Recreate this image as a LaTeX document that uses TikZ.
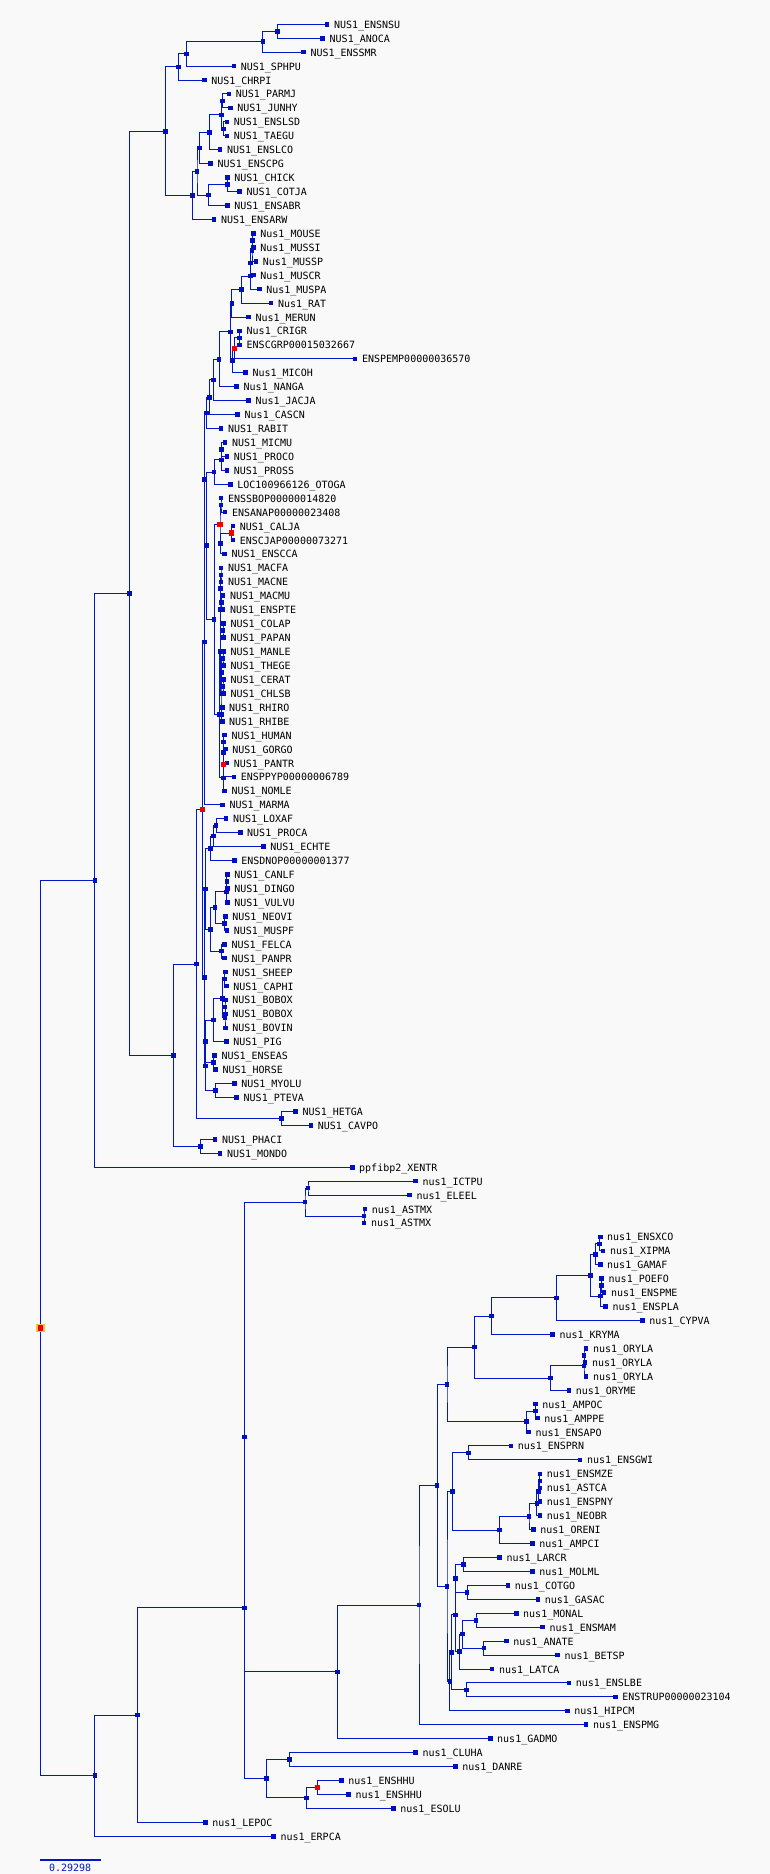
\documentclass[tikz,border=0pt]{standalone}
\usepackage{fontspec}
\newfontfamily\monolbl{DejaVu Sans Mono}
\usetikzlibrary{calc}
\pgfdeclarelayer{bglayer}
\pgfdeclarelayer{lines}
\pgfsetlayers{bglayer,lines,main}
\definecolor{lineblue}{RGB}{0,24,200}
\definecolor{mkblue}{RGB}{0,16,190}
\definecolor{bgcol}{RGB}{249,249,249}
\definecolor{rootring}{RGB}{245,195,70}
\definecolor{mkred}{RGB}{240,0,0}
\tikzset{
 br/.style={draw=lineblue, line width=1pt},
 mk/.style={rectangle, fill=mkblue, inner sep=0pt, minimum size=4.6pt},
 mkr/.style={rectangle, fill=mkred, inner sep=0pt, minimum size=5.2pt},
 lbl/.style={anchor=base west, inner sep=0pt, font=\monolbl\fontsize{10pt}{12pt}\selectfont, text=black},
}
\newcommand{\mkleaf}[3]{%
  \coordinate (L#1) at (#2pt,{-(24.3+13.938*#1)*1pt});
  \node[mk] (M#1) at (L#1) {};
  \node[lbl] (T#1) at ($(L#1)+(6.8pt,-4pt)$) {#3};
}
\newcommand{\mknodeA}[5]{%
  \path let \p1=($(#4)!0.5!(#5)$) in coordinate (#2) at (#3pt,\y1);
  \begin{pgfonlayer}{lines}
  \draw[br] (#4) -| (#2) |- (#5);
  \end{pgfonlayer}
  \node[#1] (K#2) at (#2) {};
}
\newcommand{\mknode}[4]{\mknodeA{mk}{#1}{#2}{#3}{#4}}
\newcommand{\mkrnode}[4]{\mknodeA{mkr}{#1}{#2}{#3}{#4}}
\begin{document}
\begin{tikzpicture}
\begin{pgfonlayer}{bglayer}
\fill[bgcol] (0pt,0pt) rectangle (770pt,-1874pt);
\end{pgfonlayer}
\useasboundingbox (0pt,0pt) rectangle (770pt,-1874pt);
% leaves
\mkleaf{0}{327}{NUS1\_ENSNSU}
\mkleaf{1}{322.7}{NUS1\_ANOCA}
\mkleaf{2}{303.5}{NUS1\_ENSSMR}
\mkleaf{3}{233.8}{NUS1\_SPHPU}
\mkleaf{4}{204.3}{NUS1\_CHRPI}
\mkleaf{5}{228.9}{NUS1\_PARMJ}
\mkleaf{6}{230.4}{NUS1\_JUNHY}
\mkleaf{7}{226.9}{NUS1\_ENSLSD}
\mkleaf{8}{226.9}{NUS1\_TAEGU}
\mkleaf{9}{220}{NUS1\_ENSLCO}
\mkleaf{10}{210.7}{NUS1\_ENSCPG}
\mkleaf{11}{227.4}{NUS1\_CHICK}
\mkleaf{12}{239.7}{NUS1\_COTJA}
\mkleaf{13}{227.4}{NUS1\_ENSABR}
\mkleaf{14}{214.1}{NUS1\_ENSARW}
\mkleaf{15}{253.4}{Nus1\_MOUSE}
\mkleaf{16}{253.4}{Nus1\_MUSSI}
\mkleaf{17}{255.9}{Nus1\_MUSSP}
\mkleaf{18}{253.4}{Nus1\_MUSCR}
\mkleaf{19}{259.3}{Nus1\_MUSPA}
\mkleaf{20}{271.1}{Nus1\_RAT}
\mkleaf{21}{248.5}{Nus1\_MERUN}
\mkleaf{22}{239.7}{Nus1\_CRIGR}
\mkleaf{23}{239.7}{ENSCGRP00015032667}
\mkleaf{24}{355.1}{ENSPEMP00000036570}
\mkleaf{25}{245.6}{Nus1\_MICOH}
\mkleaf{26}{236.7}{Nus1\_NANGA}
\mkleaf{27}{248.5}{Nus1\_JACJA}
\mkleaf{28}{237.7}{Nus1\_CASCN}
\mkleaf{29}{221}{NUS1\_RABIT}
\mkleaf{30}{225}{NUS1\_MICMU}
\mkleaf{31}{226.9}{NUS1\_PROCO}
\mkleaf{32}{226.9}{NUS1\_PROSS}
\mkleaf{33}{230.4}{LOC100966126\_OTOGA}
\mkleaf{34}{221}{ENSSBOP00000014820}
\mkleaf{35}{225}{ENSANAP00000023408}
\mkleaf{36}{232.8}{NUS1\_CALJA}
\mkleaf{37}{232.8}{ENSCJAP00000073271}
\mkleaf{38}{224.5}{NUS1\_ENSCCA}
\mkleaf{39}{221}{NUS1\_MACFA}
\mkleaf{40}{221}{NUS1\_MACNE}
\mkleaf{41}{223}{NUS1\_MACMU}
\mkleaf{42}{223}{NUS1\_ENSPTE}
\mkleaf{43}{223.5}{NUS1\_COLAP}
\mkleaf{44}{223.5}{NUS1\_PAPAN}
\mkleaf{45}{223.5}{NUS1\_MANLE}
\mkleaf{46}{223.5}{NUS1\_THEGE}
\mkleaf{47}{223.5}{NUS1\_CERAT}
\mkleaf{48}{223.5}{NUS1\_CHLSB}
\mkleaf{49}{222.2}{NUS1\_RHIRO}
\mkleaf{50}{222.2}{NUS1\_RHIBE}
\mkleaf{51}{224.5}{NUS1\_HUMAN}
\mkleaf{52}{225.4}{NUS1\_GORGO}
\mkleaf{53}{226.9}{NUS1\_PANTR}
\mkleaf{54}{233.8}{ENSPPYP00000006789}
\mkleaf{55}{224.5}{NUS1\_NOMLE}
\mkleaf{56}{222.5}{NUS1\_MARMA}
\mkleaf{57}{226}{NUS1\_LOXAF}
\mkleaf{58}{240.2}{NUS1\_PROCA}
\mkleaf{59}{263.3}{NUS1\_ECHTE}
\mkleaf{60}{234.3}{ENSDNOP00000001377}
\mkleaf{61}{227.4}{NUS1\_CANLF}
\mkleaf{62}{227.4}{NUS1\_DINGO}
\mkleaf{63}{227.4}{NUS1\_VULVU}
\mkleaf{64}{225.4}{NUS1\_NEOVI}
\mkleaf{65}{226.9}{NUS1\_MUSPF}
\mkleaf{66}{224.5}{NUS1\_FELCA}
\mkleaf{67}{224.5}{NUS1\_PANPR}
\mkleaf{68}{225.4}{NUS1\_SHEEP}
\mkleaf{69}{226.4}{NUS1\_CAPHI}
\mkleaf{70}{225.4}{NUS1\_BOBOX}
\mkleaf{71}{225.4}{NUS1\_BOBOX}
\mkleaf{72}{225.4}{NUS1\_BOVIN}
\mkleaf{73}{226.4}{NUS1\_PIG}
\mkleaf{74}{214.6}{NUS1\_ENSEAS}
\mkleaf{75}{215.6}{NUS1\_HORSE}
\mkleaf{76}{234.3}{NUS1\_MYOLU}
\mkleaf{77}{236.7}{NUS1\_PTEVA}
\mkleaf{78}{295.7}{NUS1\_HETGA}
\mkleaf{79}{310.9}{NUS1\_CAVPO}
\mkleaf{80}{215.1}{NUS1\_PHACI}
\mkleaf{81}{220}{NUS1\_MONDO}
\mkleaf{82}{352.2}{ppfibp2\_XENTR}
\mkleaf{83}{415.5}{nus1\_ICTPU}
\mkleaf{84}{409.6}{nus1\_ELEEL}
\mkleaf{85}{364.9}{nus1\_ASTMX}
\mkleaf{86}{364}{nus1\_ASTMX}
\mkleaf{87}{600.2}{nus1\_ENSXCO}
\mkleaf{88}{603.1}{nus1\_XIPMA}
\mkleaf{89}{600.2}{nus1\_GAMAF}
\mkleaf{90}{601.7}{nus1\_POEFO}
\mkleaf{91}{604.1}{nus1\_ENSPME}
\mkleaf{92}{605.6}{nus1\_ENSPLA}
\mkleaf{93}{642.4}{nus1\_CYPVA}
\mkleaf{94}{552.5}{nus1\_KRYMA}
\mkleaf{95}{586}{nus1\_ORYLA}
\mkleaf{96}{585}{nus1\_ORYLA}
\mkleaf{97}{586}{nus1\_ORYLA}
\mkleaf{98}{568.8}{nus1\_ORYME}
\mkleaf{99}{535.4}{nus1\_AMPOC}
\mkleaf{100}{537.3}{nus1\_AMPPE}
\mkleaf{101}{528.5}{nus1\_ENSAPO}
\mkleaf{102}{510.8}{nus1\_ENSPRN}
\mkleaf{103}{580}{nus1\_ENSGWI}
\mkleaf{104}{539.8}{nus1\_ENSMZE}
\mkleaf{105}{539.8}{nus1\_ASTCA}
\mkleaf{106}{539.8}{nus1\_ENSPNY}
\mkleaf{107}{539.8}{nus1\_NEOBR}
\mkleaf{108}{533.4}{nus1\_ORENI}
\mkleaf{109}{532.4}{nus1\_AMPCI}
\mkleaf{110}{499.5}{nus1\_LARCR}
\mkleaf{111}{532.4}{nus1\_MOLML}
\mkleaf{112}{507.9}{nus1\_COTGO}
\mkleaf{113}{537.8}{nus1\_GASAC}
\mkleaf{114}{516.2}{nus1\_MONAL}
\mkleaf{115}{542.7}{nus1\_ENSMAM}
\mkleaf{116}{506.4}{nus1\_ANATE}
\mkleaf{117}{557.5}{nus1\_BETSP}
\mkleaf{118}{492.1}{nus1\_LATCA}
\mkleaf{119}{568.8}{nus1\_ENSLBE}
\mkleaf{120}{615.4}{ENSTRUP00000023104}
\mkleaf{121}{567.3}{nus1\_HIPCM}
\mkleaf{122}{586}{nus1\_ENSPMG}
\mkleaf{123}{490.2}{nus1\_GADMO}
\mkleaf{124}{415.5}{nus1\_CLUHA}
\mkleaf{125}{455.3}{nus1\_DANRE}
\mkleaf{126}{341.4}{nus1\_ENSHHU}
\mkleaf{127}{348.7}{nus1\_ENSHHU}
\mkleaf{128}{393.4}{nus1\_ESOLU}
\mkleaf{129}{205.3}{nus1\_LEPOC}
\mkleaf{130}{273.6}{nus1\_ERPCA}
% birds and reptiles
\mknode{n31}{277.5}{L0}{L1}
\mknode{n41}{262.8}{n31}{L2}
\mknode{n54}{186.6}{n41}{L3}
\mknode{n67}{178.3}{n54}{L4}
\mknode{n101}{222.5}{L5}{L6}
\mknode{n129}{223.5}{L7}{L8}
\mknode{n115}{221.5}{n101}{n129}
\mknode{n132}{209.7}{n115}{L9}
\mknode{n148}{199.4}{n132}{L10}
\mknode{n184}{227.4}{L11}{L12}
\mknode{n195b}{208.7}{n184}{L13}
\mknode{n171}{197}{n148}{n195b}
\mknode{n195}{192.5}{n171}{L14}
\mknode{n131}{165.5}{n67}{n195}
% rodents and glires
\mknode{m240}{252.5}{L15}{L16}
\mknode{m251}{252}{m240}{L17}
\mknode{m263}{250.5}{m251}{L18}
\mknode{m276}{250.5}{m263}{L19}
\mknode{m289}{241.2}{m276}{L20}
\mknode{m303}{231.8}{m289}{L21}
\mknode{m338}{239.7}{L22}{L23}
\mkrnode{m348}{234.3}{m338}{L24}
\mknode{m360}{232.3}{m348}{L25}
\mknode{m332}{230.4}{m303}{m360}
\mknode{m359}{219.1}{m332}{L26}
\mknode{m380}{213.2}{m359}{L27}
\mknode{m397}{209.2}{m380}{L28}
\mknode{m413}{206.3}{m397}{L29}
% primates
\mknode{p449}{221.5}{L30}{L31}
\mknode{p460}{221.5}{p449}{L32}
\mknode{p472}{214.1}{p460}{L33}
\mknode{p505}{221}{L34}{L35}
\mkrnode{p533}{231.3}{L36}{L37}
\mknode{p543}{220.5}{p533}{L38}
\mkrnode{p524}{220}{p505}{p543}
\mknode{o575}{221}{L39}{L40}
\mknode{o602}{221.5}{L41}{L42}
\mknode{o589}{220.5}{o575}{o602}
\mknode{o630}{223}{L43}{L44}
\mknode{o610}{220}{o589}{o630}
\mknode{o659}{223}{L45}{L46}
\mknode{o687}{223}{L47}{L48}
\mknode{o673}{221.5}{o659}{o687}
\mknode{o714}{221.5}{L49}{L50}
\mknode{o693}{221}{o673}{o714}
\mknode{owm}{220.5}{o610}{o693}
\mknode{h742}{223.5}{L51}{L52}
\mknode{h753}{223.5}{h742}{L53}
\mkrnode{h765}{223.5}{h753}{L54}
\mknode{h778}{223.5}{h765}{L55}
\mknode{cat}{219.5}{owm}{h778}
\mknode{p619}{214.1}{p524}{cat}
\mknode{p545}{206.3}{p472}{p619}
\mknode{e479}{204.3}{m413}{p545}
\mknode{e642}{204.3}{e479}{L56}
% afrotheria, xenarthra, laurasiatheria
\mknode{a825}{216.1}{L57}{L58}
\mknode{a836}{213.2}{a825}{L59}
\mknode{a848}{210.7}{a836}{L60}
\mknode{c881}{226.9}{L61}{L62}
\mknode{c892}{226.4}{c881}{L63}
\mknode{c923}{224.5}{L64}{L65}
\mknode{c907}{215.1}{c892}{c923}
\mknode{c951}{221.5}{L66}{L67}
\mknode{c929}{210.7}{c907}{c951}
\mknode{l889}{205.3}{a848}{c929}
\mknode{b979}{224.5}{L68}{L69}
\mknode{b1007}{225}{L70}{L71}
\mknode{b1017}{225}{b1007}{L72}
\mknode{b998}{222.5}{b979}{b1017}
\mknode{b1020}{213.7}{b998}{L73}
\mknode{b1062}{213.2}{L74}{L75}
\mknode{b1041}{205.3}{b1020}{b1062}
\mknode{b1090}{215.6}{L76}{L77}
\mknode{b1066}{205.3}{b1041}{b1090}
\mknode{l977}{204.3}{l889}{b1066}
\mkrnode{r809}{202.4}{e642}{l977}
\mknode{g1118}{281.4}{L78}{L79}
\mknode{r964}{196.5}{r809}{g1118}
\mknode{mar1146}{200.4}{L80}{L81}
\mknode{t1055}{173.4}{r964}{mar1146}
\mknode{t593}{129.2}{n131}{t1055}
\mknode{t880}{94.8}{t593}{L82}
% fish
\mknode{f1188}{308}{L83}{L84}
\mknode{f1216}{364}{L85}{L86}
\mknode{f1202}{305}{f1188}{f1216}
\mknode{f1244}{599.7}{L87}{L88}
\mknode{f1254}{595.3}{f1244}{L89}
\mknode{f1286}{601.7}{L90}{L91}
\mknode{f1296}{600.2}{f1286}{L92}
\mknode{f1275}{590.4}{f1254}{f1296}
\mknode{f1298}{556.5}{f1275}{L93}
\mknode{f1316}{491.7}{f1298}{L94}
\mknode{f1355}{584}{L95}{L96}
\mknode{f1366}{584}{f1355}{L97}
\mknode{f1378}{550.6}{f1366}{L98}
\mknode{f1347}{474.5}{f1316}{f1378}
\mknode{f1411}{535.4}{L99}{L100}
\mknode{f1421}{526.5}{f1411}{L101}
\mknode{f1384}{447}{f1347}{f1421}
\mknode{f1453}{468.6}{L102}{L103}
\mknode{f1481}{539.8}{L104}{L105}
\mknode{f1492}{538.5}{f1481}{L106}
\mknode{f1503}{536.8}{f1492}{L107}
\mknode{f1516}{529}{f1503}{L108}
\mknode{f1530}{499.5}{f1516}{L109}
\mknode{f1491}{452.4}{f1453}{f1530}
\mknode{f1564}{463.2}{L110}{L111}
\mknode{f1592}{467.1}{L112}{L113}
\mknode{f1578}{455.3}{f1564}{f1592}
\mknode{f1620}{476}{L114}{L115}
\mknode{f1648}{483.8}{L116}{L117}
\mknode{f1634}{462.2}{f1620}{f1648}
\mknode{f1651}{459.2}{f1634}{L118}
\mknode{f1615}{455.3}{f1578}{f1651}
\mknode{f1690}{466.6}{L119}{L120}
\mknode{f1652}{451.4}{f1615}{f1690}
\mknode{f1681}{449.9}{f1652}{L121}
\mknode{f1586}{447}{f1491}{f1681}
\mknode{f1485}{437.1}{f1384}{f1586}
\mknode{f1605}{419}{f1485}{L122}
\mknode{f1672}{337.4}{f1605}{L123}
\mknode{f1437}{244.6}{f1202}{f1672}
\mknode{f1759}{289.3}{L124}{L125}
\mkrnode{f1787}{317.8}{L126}{L127}
\mknode{f1798}{306.5}{f1787}{L128}
\mknode{f1779}{266.7}{f1759}{f1798}
\mknode{f1608}{244.6}{f1437}{f1779}
\mknode{f1715}{137.5}{f1608}{L129}
\mknode{f1775}{94.8}{f1715}{L130}
% root
\mknodeA{coordinate}{root}{40.3}{t880}{f1775}
\node[rectangle, fill=rootring, inner sep=0pt, minimum size=8.6pt] (rootring) at (root) {};
\node[rectangle, fill=mkred, inner sep=0pt, minimum width=4.6pt, minimum height=5.4pt] (rootcore) at (root) {};
% scale bar
\coordinate (sb1) at (40.3pt,-1859.7pt);
\coordinate (sb2) at (100.7pt,-1859.7pt);
\draw[lineblue, line width=1.6pt] (sb1) -- (sb2);
\node[anchor=base, inner sep=0pt, font=\monolbl\fontsize{10pt}{12pt}\selectfont, text=lineblue] (sbtext) at (70.2pt,-1871.7pt) {0.29298};
\end{tikzpicture}
\end{document}
